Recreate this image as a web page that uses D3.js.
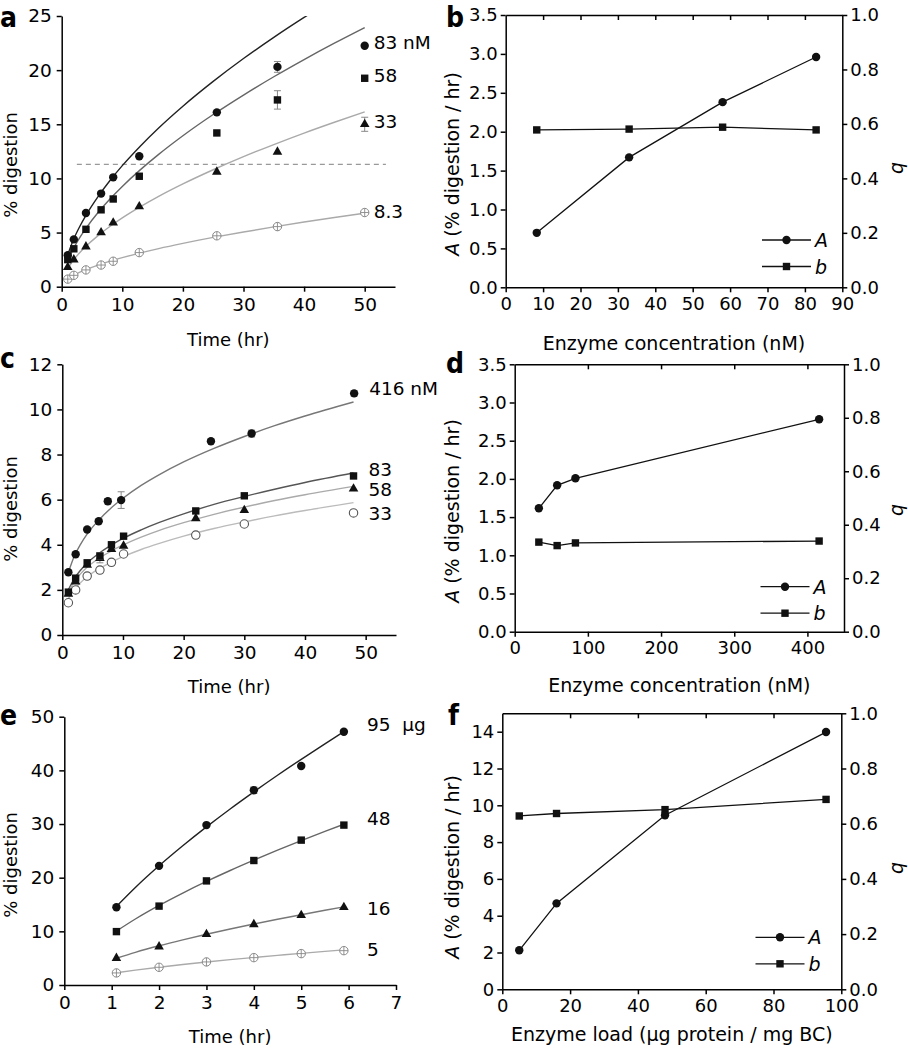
<!DOCTYPE html>
<html><head><meta charset="utf-8">
<script src="https://cdn.jsdelivr.net/npm/d3@7"></script>
<style>
body{margin:0;background:#fff;}
svg text{font-family:"DejaVu Sans",sans-serif;fill:#000;}
</style></head><body>
<svg id="chart" width="908" height="1050" xmlns="http://www.w3.org/2000/svg"></svg>
<script>
// ---------------- DATA ----------------
// Panel a: % digestion vs time, four enzyme concentrations (nM)
const timeA = [1, 2, 4, 6.5, 8.5, 12.8, 25.6, 35.6, 50];
const a83 = [2.9, 4.37, 6.8, 8.6, 10.1, 12.05, 16.1, 20.3, 22.25];
const a58 = [2.5, 3.5, 5.3, 7.1, 8.1, 10.2, 14.2, 17.25, 19.25];
const a33 = [1.8, 2.5, 3.7, 5.0, 5.9, 7.4, 10.6, 12.45, 15.0];
const a8 = [0.7, 1.05, 1.55, 2.0, 2.35, 3.15, 4.7, 5.55, 6.85];
const errA83 = [0, 0, 0, 0, 0, 0, 0, 0.5, 0];
const errA58 = [0, 0, 0, 0, 0, 0, 0, 0.85, 0];
const errA33 = [0, 0, 0, 0, 0, 0, 0, 0, 0.65];
const errA8 = [0, 0, 0, 0, 0, 0, 0, 0, 0];
const fitTimeA = [1, 2, 3, 4, 6, 8, 10, 13, 16, 20, 25, 30, 35, 40, 45, 50];
const fitA83 = [2.96, 4.42, 5.58, 6.59, 8.32, 9.83, 11.18, 13.0, 14.66, 16.67, 18.96, 21.07, 23.03, 24.87, 26.62, 28.3];
const fitA58 = [2.38, 3.58, 4.55, 5.39, 6.85, 8.12, 9.26, 10.81, 12.22, 13.94, 15.9, 17.7, 19.39, 20.98, 22.49, 23.93];
const fitA33 = [1.67, 2.5, 3.16, 3.73, 4.72, 5.58, 6.35, 7.39, 8.34, 9.49, 10.8, 12.01, 13.13, 14.19, 15.19, 16.15];
const fitA8 = [0.71, 1.06, 1.34, 1.58, 2.0, 2.36, 2.68, 3.12, 3.52, 4.0, 4.55, 5.05, 5.52, 5.97, 6.39, 6.79];
const labelsA = ["83 nM", "58", "33", "8.3"];
const thresholdA = 11.3;
const xTicksA = [0, 10, 20, 30, 40, 50];
const yTicksA = [0, 5, 10, 15, 20, 25];

// Panel b: fit parameters vs enzyme concentration
const concB = [8.3, 33, 58, 83];
const bA = [0.70, 1.67, 2.38, 2.96];
const bQ = [0.578, 0.581, 0.588, 0.578];
const xTicksB = [0, 10, 20, 30, 40, 50, 60, 70, 80, 90];
const yTicksB = [0, 0.5, 1.0, 1.5, 2.0, 2.5, 3.0, 3.5];

// Panel c
const timeC416 = [1, 2.2, 4.1, 6, 7.5, 9.7, 24.5, 31.2, 48.1];
const timeC = [1, 2.2, 4.1, 6.2, 8.1, 10.1, 22, 30, 48];
const c416 = [2.78, 3.58, 4.68, 5.04, 5.93, 5.98, 8.59, 8.93, 10.71];
const c83 = [1.9, 2.52, 3.2, 3.5, 4.0, 4.38, 5.5, 6.17, 7.05];
const c58 = [1.82, 2.36, 3.1, 3.4, 3.8, 3.95, 5.17, 5.53, 6.48];
const c33 = [1.43, 2.0, 2.61, 2.88, 3.22, 3.59, 4.43, 4.92, 5.41];
const errC416 = [0, 0, 0, 0, 0.12, 0.37, 0, 0.15, 0.12];
const errC83 = [0, 0, 0, 0.15, 0, 0, 0, 0, 0.1];
const errC58 = [0, 0, 0, 0.2, 0, 0, 0, 0, 0];
const errC33 = [0, 0, 0, 0, 0, 0, 0, 0, 0];
const fitTimeC = [1, 2, 3, 4, 6, 8, 10, 13, 16, 20, 25, 30, 35, 40, 48];
const fitC416 = [2.77, 3.51, 4.02, 4.44, 5.09, 5.62, 6.06, 6.63, 7.11, 7.67, 8.27, 8.8, 9.28, 9.71, 10.33];
const fitC83 = [2.0, 2.51, 2.87, 3.16, 3.61, 3.97, 4.28, 4.66, 4.99, 5.37, 5.79, 6.14, 6.46, 6.76, 7.18];
const fitC58 = [1.91, 2.38, 2.71, 2.98, 3.39, 3.71, 3.99, 4.34, 4.64, 4.98, 5.35, 5.67, 5.96, 6.22, 6.59];
const fitC33 = [1.61, 2.03, 2.32, 2.56, 2.93, 3.22, 3.47, 3.79, 4.06, 4.38, 4.72, 5.01, 5.28, 5.52, 5.87];
const labelsC = ["416 nM", "83", "58", "33"];
const xTicksC = [0, 10, 20, 30, 40, 50];
const yTicksC = [0, 2, 4, 6, 8, 10, 12];

// Panel d
const concD = [33, 58, 83, 416];
const dA = [1.615, 1.916, 2.008, 2.78];
const dQ = [0.335, 0.322, 0.332, 0.339];
const xTicksD = [0, 100, 200, 300, 400];
const yTicksD = [0, 0.5, 1.0, 1.5, 2.0, 2.5, 3.0, 3.5];

// Panel e
const timeE = [1.1, 2, 3, 4, 5, 5.9];
const e95 = [14.5, 22.2, 29.8, 36.3, 40.8, 47.2];
const e48 = [9.95, 14.7, 19.4, 23.2, 27.0, 29.8];
const e16 = [5.0, 7.15, 9.45, 11.3, 13.0, 14.5];
const e5 = [2.25, 3.3, 4.3, 5.1, 5.85, 6.4];
const errE95 = [0, 0, 0, 0.6, 0, 0];
const errE0 = [0, 0, 0, 0, 0, 0];
const fitTimeE = [1.1, 1.5, 2, 2.5, 3, 3.5, 4, 4.5, 5, 5.5, 5.9];
const fitE95 = [14.64, 18.17, 22.21, 25.94, 29.46, 32.81, 36.0, 39.09, 42.06, 44.95, 47.21];
const fitE48 = [10.05, 12.3, 14.83, 17.14, 19.3, 21.34, 23.27, 25.12, 26.9, 28.62, 29.96];
const fitE16 = [4.99, 6.09, 7.31, 8.42, 9.46, 10.44, 11.37, 12.25, 13.1, 13.92, 14.56];
const fitE5 = [2.28, 2.77, 3.32, 3.82, 4.28, 4.72, 5.13, 5.52, 5.9, 6.26, 6.54];
const labelsE = ["95  \u00b5g", "48", "16", "5"];
const xTicksE = [0, 1, 2, 3, 4, 5, 6, 7];
const yTicksE = [0, 10, 20, 30, 40, 50];

// Panel f
const loadF = [5, 16, 48, 95.5];
const fA = [2.12, 4.67, 9.46, 13.98];
const fQ = [0.628, 0.637, 0.651, 0.688];
const xTicksF = [0, 20, 40, 60, 80, 100];
const yTicksF = [0, 2, 4, 6, 8, 10, 12, 14];

const qTicks = [0, 0.2, 0.4, 0.6, 0.8, 1.0];

// ---------------- DRAWING ----------------
const svg = d3.select("#chart");
svg.append("rect").attr("width", 908).attr("height", 1050).attr("fill", "#fff");
const FONT = "DejaVu Sans";
const LETTER_FONT = "'Liberation Sans Narrow','DejaVu Sans Condensed',sans-serif";

function styleAxis(sel, size) {
  sel.attr("font-family", FONT).attr("font-size", size);
  sel.selectAll("path").attr("stroke", "#000").attr("stroke-width", 1.5);
  sel.selectAll("line").attr("stroke", "#000").attr("stroke-width", 1.5);
  sel.selectAll("text").attr("fill", "#000");
}

function marker(g, shape, x, y) {
  if (shape === "circle") {
    g.append("circle").attr("cx", x).attr("cy", y).attr("r", 4.2).attr("fill", "#111");
  } else if (shape === "square") {
    g.append("rect").attr("x", x - 3.7).attr("y", y - 3.7).attr("width", 7.4).attr("height", 7.4).attr("fill", "#111");
  } else if (shape === "triangle") {
    g.append("path").attr("d", d3.symbol(d3.symbolTriangle, 40)()).attr("transform", `translate(${x},${y})`).attr("fill", "#111");
  } else if (shape === "opencross") {
    g.append("circle").attr("cx", x).attr("cy", y).attr("r", 4.2).attr("fill", "#fff").attr("stroke", "#888").attr("stroke-width", 1);
    g.append("path").attr("d", `M${x - 4.2},${y}H${x + 4.2}M${x},${y - 4.2}V${y + 4.2}`).attr("stroke", "#888").attr("stroke-width", 0.9);
  } else if (shape === "open") {
    g.append("circle").attr("cx", x).attr("cy", y).attr("r", 4.2).attr("fill", "#fff").attr("stroke", "#555").attr("stroke-width", 1.1);
  }
}

function letter(txt, x, y) {
  svg.append("text").attr("x", x).attr("y", y).text(txt)
    .style("font-family", LETTER_FONT).attr("font-weight", "bold").attr("font-size", 28);
}

function timePanel(P) {
  const g = svg.append("g");
  const x = d3.scaleLinear([0, P.xMax], [P.left, P.right]);
  const y = d3.scaleLinear([0, P.yMax], [P.bottom, P.top]);
  const clipId = "clip" + P.id;
  svg.append("clipPath").attr("id", clipId).append("rect")
    .attr("x", P.left).attr("y", P.top).attr("width", P.right - P.left + 30).attr("height", P.bottom - P.top);

  const ax = g.append("g").attr("transform", `translate(0,${P.bottom})`)
    .call(d3.axisBottom(x).tickValues(P.xTicks).tickFormat(d3.format("d")).tickSize(5).tickPadding(6).tickSizeOuter(0));
  styleAxis(ax, 18.5);
  const ay = g.append("g").attr("transform", `translate(${P.left},0)`)
    .call(d3.axisLeft(y).tickValues(P.yTicks).tickFormat(d3.format("d")).tickSize(5).tickPadding(5).tickSizeOuter(0));
  styleAxis(ay, 18.5);

  if (P.threshold !== undefined) {
    g.append("line").attr("x1", x(2.5)).attr("x2", x(53.5)).attr("y1", y(P.threshold)).attr("y2", y(P.threshold))
      .attr("stroke", "#999").attr("stroke-width", 1.3).attr("stroke-dasharray", "5,4");
  }
  const line = d3.line().x(d => x(d[0])).y(d => y(d[1])).curve(d3.curveMonotoneX);
  P.series.forEach(s => {
    g.append("path").datum(d3.zip(s.fitT, s.fitV)).attr("d", line)
      .attr("fill", "none").attr("stroke", s.color).attr("stroke-width", 1.4).attr("clip-path", `url(#${clipId})`);
  });
  P.series.slice().reverse().forEach(s => {
    s.t.forEach((t, i) => {
      const e = s.err[i];
      if (e > 0) {
        const cx = x(t);
        g.append("path").attr("d", `M${cx},${y(s.v[i] - e)}V${y(s.v[i] + e)}M${cx - 3.5},${y(s.v[i] - e)}H${cx + 3.5}M${cx - 3.5},${y(s.v[i] + e)}H${cx + 3.5}`)
          .attr("stroke", "#888").attr("stroke-width", 1).attr("fill", "none");
      }
      marker(g, s.shape, x(t), y(s.v[i]));
    });
  });
  P.series.forEach((s, i) => {
    const n = s.t.length - 1;
    g.append("text").attr("x", x(s.t[n]) + P.labelDx).attr("y", y(s.v[n]) + P.labelDy[i] + 6.7)
      .attr("font-size", 18.5).style("white-space", "pre").text(s.label);
  });
  svg.append("text").attr("x", (P.left + P.right) / 2).attr("y", P.xLabelY).attr("text-anchor", "middle")
    .attr("font-size", 18).text("Time (hr)");
  svg.append("text").attr("transform", `translate(17,${P.yLabelCenter}) rotate(-90)`).attr("text-anchor", "middle")
    .attr("font-size", 18).text("% digestion");
}

function paramPanel(P) {
  const g = svg.append("g");
  const x = d3.scaleLinear([0, P.xMax], [P.left, P.right]);
  const yL = d3.scaleLinear([0, P.yMax], [P.bottom, P.top]);
  const yR = d3.scaleLinear([0, 1], [P.bottom, P.top]);

  const top = g.append("g").attr("transform", `translate(0,${P.top})`)
    .call(d3.axisTop(x).tickValues(P.xTicks.filter(v => v > 0 && v < P.xMax)).tickSize(-5).tickFormat("").tickSizeOuter(0));
  styleAxis(top, 18);
  const bot = g.append("g").attr("transform", `translate(0,${P.bottom})`)
    .call(d3.axisBottom(x).tickValues(P.xTicks).tickFormat(d3.format("d")).tickSize(5).tickPadding(5).tickSizeOuter(0));
  styleAxis(bot, 18);
  const lft = g.append("g").attr("transform", `translate(${P.left},0)`)
    .call(d3.axisLeft(yL).tickValues(P.yTicks).tickSize(5).tickPadding(3).tickFormat(d3.format(P.yFmt)).tickSizeOuter(0));
  styleAxis(lft, 18);
  const rgt = g.append("g").attr("transform", `translate(${P.right},0)`)
    .call(d3.axisRight(yR).tickValues(qTicks).tickSize(5).tickPadding(3).tickFormat(d3.format(".1f")).tickSizeOuter(0));
  styleAxis(rgt, 18);

  const lineA = d3.line().x((d, i) => x(P.conc[i])).y(d => yL(d));
  const lineQ = d3.line().x((d, i) => x(P.conc[i])).y(d => yR(d));
  g.append("path").datum(P.q).attr("d", lineQ).attr("fill", "none").attr("stroke", "#111").attr("stroke-width", 1.3);
  g.append("path").datum(P.A).attr("d", lineA).attr("fill", "none").attr("stroke", "#111").attr("stroke-width", 1.3);
  P.q.forEach((v, i) => marker(g, "square", x(P.conc[i]), yR(v)));
  P.A.forEach((v, i) => marker(g, "circle", x(P.conc[i]), yL(v)));

  // legend
  const rows = [["circle", "A"], ["square", "b"]];
  rows.forEach((r, i) => {
    const yy = P.legY + i * 26.5;
    g.append("line").attr("x1", P.legX).attr("x2", P.legX + 49).attr("y1", yy).attr("y2", yy).attr("stroke", "#111").attr("stroke-width", 1.3);
    marker(g, r[0], P.legX + 24.5, yy);
    g.append("text").attr("x", P.legX + 53).attr("y", yy + 7).attr("font-size", 19).attr("font-style", "italic").text(r[1]);
  });

  svg.append("text").attr("x", (P.left + P.right) / 2).attr("y", P.xLabelY).attr("text-anchor", "middle")
    .attr("font-size", 19).text(P.xLabel);
  const yl = svg.append("text").attr("transform", `translate(459,${P.yLabelCenter}) rotate(-90)`).attr("text-anchor", "middle")
    .attr("font-size", 19);
  yl.append("tspan").attr("font-style", "italic").text("A");
  yl.append("tspan").text(" (% digestion / hr)");
  svg.append("text").attr("transform", `translate(903,${P.qLabelCenter}) rotate(-90)`).attr("text-anchor", "middle")
    .attr("font-size", 19).attr("font-style", "italic").text("q");
}

// Panel a
timePanel({
  id: "a", left: 61.7, right: 395, top: 16, bottom: 286.7, xMax: 55, yMax: 25,
  xTicks: xTicksA, yTicks: yTicksA, threshold: thresholdA,
  xLabelY: 346, yLabelCenter: 165, labelDx: 9, labelDy: [-3, -3, -3, -1],
  series: [
    { t: timeA, v: a83, err: errA83, fitT: fitTimeA, fitV: fitA83, shape: "circle", color: "#222", label: labelsA[0] },
    { t: timeA, v: a58, err: errA58, fitT: fitTimeA, fitV: fitA58, shape: "square", color: "#666", label: labelsA[1] },
    { t: timeA, v: a33, err: errA33, fitT: fitTimeA, fitV: fitA33, shape: "triangle", color: "#aaa", label: labelsA[2] },
    { t: timeA, v: a8, err: errA8, fitT: fitTimeA, fitV: fitA8, shape: "opencross", color: "#aaa", label: labelsA[3] }
  ]
});

// Panel c
timePanel({
  id: "c", left: 62.3, right: 396, top: 364.3, bottom: 635, xMax: 55, yMax: 12,
  xTicks: xTicksC, yTicks: yTicksC,
  xLabelY: 693, yLabelCenter: 509, labelDx: 15, labelDy: [-5, -7, 0, 0],
  series: [
    { t: timeC416, v: c416, err: errC416, fitT: fitTimeC, fitV: fitC416, shape: "circle", color: "#777", label: labelsC[0] },
    { t: timeC, v: c83, err: errC83, fitT: fitTimeC, fitV: fitC83, shape: "square", color: "#555", label: labelsC[1] },
    { t: timeC, v: c58, err: errC58, fitT: fitTimeC, fitV: fitC58, shape: "triangle", color: "#aaa", label: labelsC[2] },
    { t: timeC, v: c33, err: errC33, fitT: fitTimeC, fitV: fitC33, shape: "open", color: "#bbb", label: labelsC[3] }
  ]
});

// Panel e
timePanel({
  id: "e", left: 64.3, right: 396, top: 716.7, bottom: 985, xMax: 7, yMax: 50,
  xTicks: xTicksE, yTicks: yTicksE,
  xLabelY: 1043, yLabelCenter: 865, labelDx: 23, labelDy: [-7, -7, 1, -1],
  series: [
    { t: timeE, v: e95, err: errE95, fitT: fitTimeE, fitV: fitE95, shape: "circle", color: "#222", label: labelsE[0] },
    { t: timeE, v: e48, err: errE0, fitT: fitTimeE, fitV: fitE48, shape: "square", color: "#666", label: labelsE[1] },
    { t: timeE, v: e16, err: errE0, fitT: fitTimeE, fitV: fitE16, shape: "triangle", color: "#777", label: labelsE[2] },
    { t: timeE, v: e5, err: errE0, fitT: fitTimeE, fitV: fitE5, shape: "opencross", color: "#aaa", label: labelsE[3] }
  ]
});

// Panel b
paramPanel({
  left: 505.7, right: 842.3, top: 15, bottom: 287.3, xMax: 90, yMax: 3.5,
  xTicks: xTicksB, yTicks: yTicksB, yFmt: ".1f", conc: concB, A: bA, q: bQ,
  legX: 762, legY: 240, xLabelY: 350, xLabel: "Enzyme concentration (nM)", yLabelCenter: 164, qLabelCenter: 168
});
// Panel d
paramPanel({
  left: 514.7, right: 844, top: 364.3, bottom: 631.7, xMax: 450, yMax: 3.5,
  xTicks: xTicksD, yTicks: yTicksD, yFmt: ".1f", conc: concD, A: dA, q: dQ,
  legX: 760.5, legY: 586.7, xLabelY: 692, xLabel: "Enzyme concentration (nM)", yLabelCenter: 511, qLabelCenter: 510
});
// Panel f
paramPanel({
  left: 502.3, right: 841.3, top: 713.3, bottom: 989.3, xMax: 100, yMax: 15,
  xTicks: xTicksF, yTicks: yTicksF, yFmt: "d", conc: loadF, A: fA, q: fQ,
  legX: 755.5, legY: 937.3, xLabelY: 1041, xLabel: "Enzyme load (\u00b5g protein / mg BC)", yLabelCenter: 867, qLabelCenter: 868
});

letter("a", 0, 27);
letter("b", 446, 27);
letter("c", 0, 368);
letter("d", 446, 373);
letter("e", 0, 725);
letter("f", 448, 725);
</script>
</body></html>
